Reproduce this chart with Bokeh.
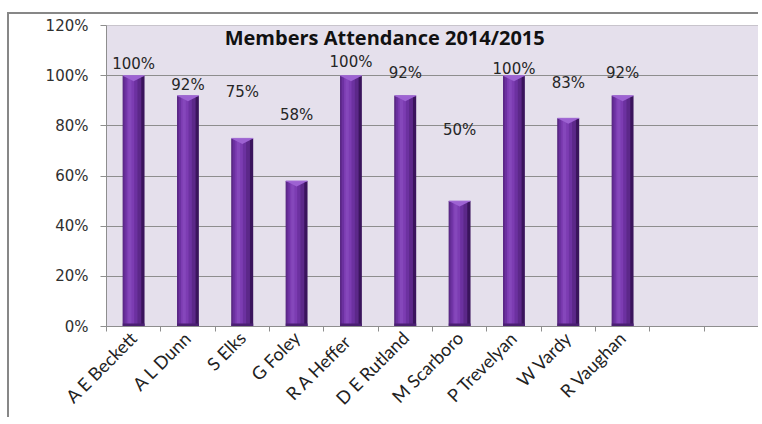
import numpy as np
from bokeh.plotting import figure
from bokeh.models import (Range1d, FixedTicker, NumeralTickFormatter,
                          ColumnDataSource, Label)
from bokeh.core.properties import value
from bokeh.embed import file_html
from bokeh.resources import INLINE

# ---- data ----
names = ["A E Beckett", "A L Dunn", "S Elks", "G Foley", "R  A Heffer", "D E Rutland",
         "M Scarboro", "P Trevelyan", "W Vardy", "R Vaughan"]
n_slots = 12  # two empty category slots at the right
attendance = [100, 92, 75, 58, 100, 92, 50, 100, 83, 92]
label_heights = [104.6, 96.4, 93.6, 84.4, 105.6, 101.2, 78.4, 102.6, 97, 101]
y_ticks = [0, 20, 40, 60, 80, 100, 120]
title_text = "Members Attendance 2014/2015"

vals = np.array(attendance, dtype=float) / 100.0
centers = np.arange(len(names)) + 0.5

p = figure(width=751, height=405, x_range=Range1d(0, n_slots),
           y_range=Range1d(0, 1.2), output_backend="svg", toolbar_location=None,
           min_border_left=97, min_border_right=2, min_border_top=11, min_border_bottom=0)
p.styles = {"border-left": "2px solid #878787", "border-top": "2px solid #878787",
            "position": "relative", "left": "7px", "top": "12px"}

p.background_fill_color = "#e5e0ec"
p.border_fill_color = "white"
p.outline_line_color = "#c8c4cc"
p.xgrid.grid_line_color = None
p.ygrid.grid_line_color = "#8e8e8e"
p.ygrid.grid_line_width = 1

# y axis
p.yaxis.ticker = FixedTicker(ticks=[t / 100 for t in y_ticks])
p.yaxis.formatter = NumeralTickFormatter(format="0%")
p.yaxis.axis_line_color = "#8e8e8e"
p.yaxis.major_tick_line_color = "#8e8e8e"
p.yaxis.major_tick_out = 6
p.yaxis.major_tick_in = 0
p.yaxis.minor_tick_line_color = None
p.yaxis.major_label_text_font = "DejaVu Sans"
p.yaxis.major_label_text_font_size = "15px"
p.yaxis.major_label_text_color = "#303030"
p.yaxis.major_label_standoff = 12

# x axis: labels at slot centres, tick marks at slot boundaries
xa = p.xaxis[0]
xa.ticker = FixedTicker(ticks=list(centers), minor_ticks=list(range(n_slots + 1)))
xa.major_label_overrides = {float(c): nm for c, nm in zip(centers, names)}
xa.axis_line_color = "#8e8e8e"
xa.major_tick_line_color = None
xa.minor_tick_line_color = "#8e8e8e"
xa.minor_tick_out = 5
xa.minor_tick_in = 0
xa.major_tick_out = 5
xa.major_label_orientation = np.pi / 4
xa.major_label_text_font = "Lato"
xa.major_label_text_font_size = "18px"
xa.major_label_text_color = "#222222"
xa.major_label_standoff = 3

# ---- bars with a cylinder-like shading ----
layers = [  # (offset, width, color)
    (0.0, 0.40, "#3a145c"),
    (-0.03, 0.34, "#5c2889"),
    (-0.05, 0.24, "#6c31a0"),
    (-0.06, 0.14, "#7c3cb2"),
    (-0.07, 0.06, "#8547bb"),
]
for off, w, c in layers:
    p.vbar(x=centers + off, top=vals, bottom=0, width=w, fill_color=c, line_color=None)

# darker base ring
p.vbar(x=centers, top=np.full(len(vals), 0.012), bottom=0, width=0.4,
       fill_color="#4a1f72", line_color=None)

# light triangular cap
tri_xs = [[c - 0.2, c + 0.2, c] for c in centers]
tri_ys = [[v, v, v - 0.022] for v in vals]
p.patches(tri_xs, tri_ys, fill_color="#9d62d2", line_color=None)
p.segment(x0=centers - 0.2, y0=vals, x1=centers + 0.2, y1=vals, line_color="#a46fd6", line_width=1)

# value labels
lab_src = ColumnDataSource(dict(x=centers, y=np.array(label_heights) / 100.0,
                                t=[f"{a}%" for a in attendance]))
p.text(x="x", y="y", text="t", source=lab_src, text_align="center", text_baseline="middle",
       text_font=value("DejaVu Sans"), text_font_size="15px", text_color="#262626")

# title inside plot area
p.add_layout(Label(x=5.12, y=1.152, text=title_text, text_align="center", text_baseline="middle",
                   text_font="Open Sans", text_font_style="bold", text_font_size="20px",
                   text_color="#111111"))

open("out.html", "w").write(file_html(p, INLINE))
